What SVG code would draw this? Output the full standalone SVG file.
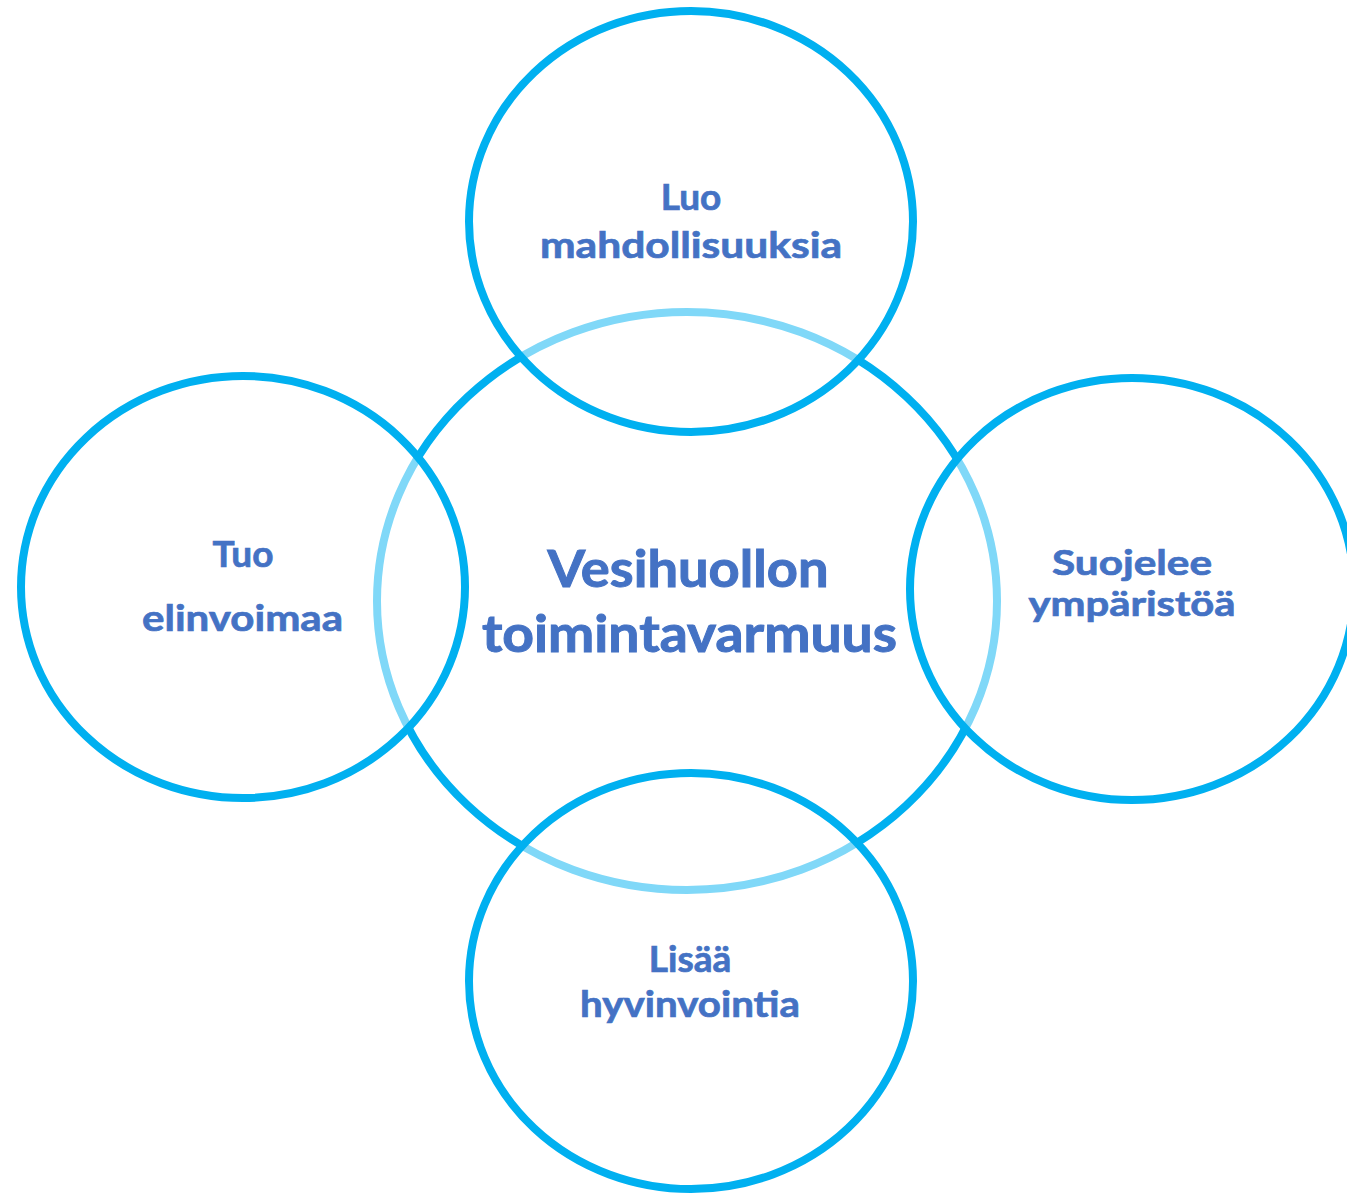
<svg xmlns="http://www.w3.org/2000/svg" width="1347" height="1196" viewBox="0 0 1347 1196">
<style>
.ring{fill:#FFFFFF;fill-opacity:0.5;stroke:#00B0F0;stroke-width:8}
.core{fill:none;stroke:#00B0F0;stroke-width:8}
.t{font-family:Lato,"Open Sans","Liberation Sans",sans-serif;font-weight:bold;fill:#4472C4;stroke:#4472C4;text-anchor:middle}
.s{font-size:37px;stroke-width:0.7px}
.r{font-size:35px;stroke-width:0.7px}
.b{font-size:51px;stroke-width:1px}
</style>
<rect width="1347" height="1196" fill="#FFFFFF"/>
<g id="center">
<ellipse class="core" cx="687" cy="601" rx="310" ry="289"/>
</g>
<g id="connectors"></g>
<g id="top">
<ellipse class="ring" cx="691" cy="221.5" rx="222" ry="210.5"/>
<text class="t s" x="691" y="210">Luo</text>
<text class="t s" x="691" y="258" textLength="302" lengthAdjust="spacingAndGlyphs">mahdollisuuksia</text>
</g>
<g id="left">
<ellipse class="ring" cx="243" cy="587" rx="222" ry="211"/>
<text class="t s" x="243" y="567">Tuo</text>
<text class="t s" x="242.5" y="631" textLength="201" lengthAdjust="spacingAndGlyphs">elinvoimaa</text>
</g>
<g id="right">
<ellipse class="ring" cx="1132" cy="589" rx="222" ry="211"/>
<text class="t r" x="1132" y="575" textLength="160" lengthAdjust="spacingAndGlyphs">Suojelee</text>
<text class="t r" x="1132" y="616" textLength="207" lengthAdjust="spacingAndGlyphs">ympäristöä</text>
</g>
<g id="bottom">
<ellipse class="ring" cx="691" cy="981" rx="222" ry="208"/>
<text class="t s" x="690" y="972">Lisää</text>
<text class="t s" x="690" y="1017" textLength="220" lengthAdjust="spacingAndGlyphs">hyvinvointia</text>
</g>
<g id="center-label">
<text class="t b" x="688" y="587" textLength="281" lengthAdjust="spacingAndGlyphs">Vesihuollon</text>
<text class="t b" x="689.5" y="652" textLength="415" lengthAdjust="spacingAndGlyphs">toimintavarmuus</text>
</g>
</svg>
